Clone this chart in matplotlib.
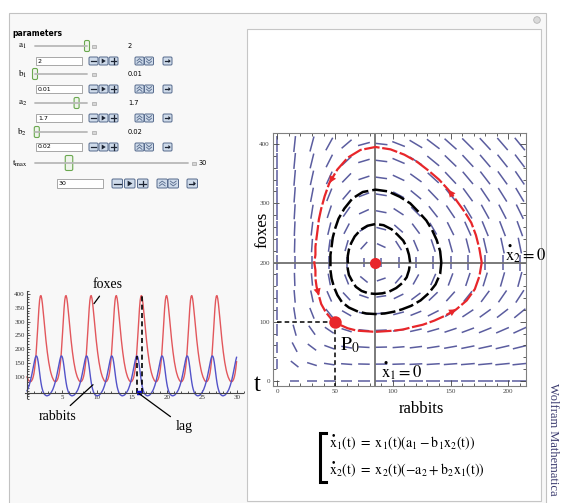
import numpy as np
import matplotlib
matplotlib.use('Agg')
import matplotlib.pyplot as plt
from matplotlib.patches import Rectangle, FancyBboxPatch, Polygon, Circle, FancyArrowPatch
from matplotlib.collections import LineCollection
from matplotlib.ticker import MultipleLocator

plt.rcParams['mathtext.fontset'] = 'stix'
plt.rcParams['font.family'] = ['Liberation Serif', 'DejaVu Serif']

# parameters shown in the controls
a1, b1, a2, b2 = 2, 0.01, 1.7, 0.02
t_max = 30
p0 = (50, 100)

# one period of the time series (samples every 0.1), period
period = 3.592
cycle_t = np.arange(0, 3.6, 0.1)
rabbits_cycle = [50, 55, 62, 69, 78, 87, 98, 110, 123, 136, 149, 161,
                 171, 176, 175, 168, 154, 136, 115, 96, 79, 65, 55, 47,
                 41, 37, 35, 33, 32, 32, 33, 34, 36, 39, 42, 46]
foxes_cycle = [100, 94, 89, 85, 84, 83, 84, 88, 93, 102, 114, 132,
               155, 185, 222, 264, 308, 347, 377, 392, 394, 384, 365, 340,
               314, 286, 260, 234, 211, 190, 171, 154, 140, 127, 116, 107]

# closed orbits in the phase plane
red_x = [177, 175, 172, 168, 162, 155, 148, 140, 131, 121, 110, 98,
         85, 72, 61, 52, 45, 41, 38, 36, 35, 34, 33, 33,
         32, 33, 33, 34, 36, 38, 42, 47, 54, 61, 69, 77,
         85, 93, 101, 109, 117, 126, 136, 145, 155, 164, 171, 175]
red_y = [200, 223, 246, 267, 286, 305, 323, 340, 355, 370, 382, 391,
         395, 390, 377, 357, 334, 312, 291, 273, 257, 242, 227, 213,
         200, 187, 173, 159, 144, 130, 116, 104, 95, 89, 85, 84,
         83, 84, 85, 87, 91, 95, 102, 110, 121, 136, 155, 177]
mid_x = [142, 141, 138, 134, 129, 122, 115, 106, 96, 85, 74, 65,
         58, 53, 50, 48, 47, 46, 46, 46, 47, 49, 52, 56,
         62, 70, 77, 85, 93, 101, 108, 116, 124, 131, 137, 141]
mid_y = [200, 219, 238, 255, 271, 286, 300, 311, 320, 323, 319, 308,
         291, 274, 257, 242, 227, 213, 200, 187, 173, 159, 145, 133,
         124, 117, 114, 113, 114, 117, 121, 127, 136, 148, 163, 181]
inner_x = [115, 114, 112, 109, 104, 99, 92, 85, 78, 72, 67, 64,
           62, 61, 61, 61, 62, 65, 68, 73, 79, 85, 91, 97,
           103, 108, 112, 114]
inner_y = [200, 213, 226, 237, 247, 256, 263, 265, 262, 255, 244, 233,
           222, 211, 200, 189, 179, 168, 159, 152, 148, 147, 148, 151,
           157, 165, 175, 187]
arrow_idx = [5, 15, 27, 43]

W, H = 563, 503
fig = plt.figure(figsize=(W/100, H/100), dpi=100)
fig.patch.set_facecolor('white')

def box(x0, y0, x1, y1):
    return [x0/W, 1-y1/H, (x1-x0)/W, (y1-y0)/H]

# ---- interface layer (pixel coords) ----
ui = fig.add_axes([0, 0, 1, 1], zorder=0)
ui.set_xlim(0, W); ui.set_ylim(H, 0); ui.axis('off')
ui.add_patch(Rectangle((8.5, 12.5), 537, 500, fc='#f8f8f8', ec='#c2c2c2', lw=0.8))
ui.add_patch(Rectangle((247, 28.5), 294, 472, fc='white', ec='#c6c6c6', lw=0.8))
ui.add_patch(Circle((537, 20), 3.3, fc='#dadada', ec='#b5b5b5', lw=0.6))
ui.text(12, 33, 'parameters', family='DejaVu Sans', weight='bold', fontsize=5.5, va='center')

ink = '#1c2433'
def button(x, y, w, h, kind):
    ui.add_patch(FancyBboxPatch((x, y), w, h, boxstyle='round,pad=0,rounding_size=1.2',
                                fc='#cfdbea', ec='#55698b', lw=0.7))
    cx, cy = x + w/2, y + h/2
    if kind in ('minus', 'plus'):
        ui.plot([cx-w*0.32, cx+w*0.32], [cy, cy], color=ink, lw=0.9)
        if kind == 'plus':
            ui.plot([cx, cx], [cy-h*0.32, cy+h*0.32], color=ink, lw=0.9)
    elif kind == 'play':
        ui.add_patch(Polygon([[cx-w*0.2, cy-h*0.32], [cx-w*0.2, cy+h*0.32], [cx+w*0.25, cy]],
                             closed=True, fc=ink, ec='none'))
    elif kind in ('up', 'down'):
        s = -1 if kind == 'up' else 1
        for dy in (-1.3, 1.3):
            ui.plot([cx-w*0.28, cx, cx+w*0.28], [cy+dy-s*1.1, cy+dy+s*1.1, cy+dy-s*1.1],
                    color='#55698b', lw=0.6)
    else:
        ui.plot([cx-w*0.3, cx+w*0.15], [cy, cy], color=ink, lw=0.9)
        ui.add_patch(Polygon([[cx+w*0.1, cy-h*0.25], [cx+w*0.1, cy+h*0.25], [cx+w*0.35, cy]],
                             closed=True, fc=ink, ec='none'))

def control_row(x_box, w_box, y, value, xs, w, h):
    ui.add_patch(Rectangle((x_box, y-h/2), w_box, h, fc='white', ec='#9a9a9a', lw=0.6))
    ui.text(x_box+2, y, value, family='DejaVu Sans', fontsize=4.5, va='center')
    for x, kind in zip(xs, ['minus', 'play', 'plus', 'up', 'down', 'arrow']):
        button(x, y-h/2, w, h, kind)

def slider(label, value, lo, hi, y, x0, x1, sq, xv, big=False):
    ui.text(x0-8, y, label, fontsize=6.5, ha='right', va='center')
    ui.plot([x0, x1], [y, y], color='#b8b8b8', lw=1.3, solid_capstyle='round')
    xt = x0 + (value-lo)/(hi-lo)*(x1-x0)
    tw, th = (7.5, 15) if big else (5, 11)
    ui.add_patch(FancyBboxPatch((xt-tw/2, y-th/2), tw, th, boxstyle='round,pad=0,rounding_size=1.5',
                                fc='#eef4ea', ec='#6aa84f', lw=0.8))
    ui.add_patch(Rectangle((sq, y-1.5), 4, 3, fc='#d6d6d6', ec='#a6a6a6', lw=0.5))
    ui.text(xv, y, '%g' % value, family='DejaVu Sans', fontsize=4.8, va='center')

rows = [(r'$\mathrm{a_1}$', a1, 0.5, 2, 46), (r'$\mathrm{b_1}$', b1, 0.01, 0.3, 74),
        (r'$\mathrm{a_2}$', a2, 0.5, 2, 103), (r'$\mathrm{b_2}$', b2, 0.01, 0.3, 132)]
for lab, val, lo, hi, y in rows:
    slider(lab, val, lo, hi, y, 35, 87, 92, 128)
    control_row(36, 46, y+15, '%g' % val, [89, 99, 109, 135, 144.5, 163], 9, 8)
slider(r'$\mathrm{t_{max}}$', t_max, 10, 100, 163, 35, 188, 192, 199, big=True)
control_row(57, 46, 183.5, '%g' % t_max, [112, 124.5, 137.5, 157, 168, 187], 10.5, 9)

# ---- time series ----
ts = fig.add_axes(box(23.5, 289.8, 244, 399.1), zorder=2)
ts.patch.set_alpha(0)
t_all = np.concatenate([k*period + cycle_t for k in range(9)])
rab_all = np.tile(rabbits_cycle, 9)
fox_all = np.tile(foxes_cycle, 9)
keep = t_all <= t_max
ts.plot(t_all[keep], fox_all[keep], color='#e2575c', lw=1.0)
ts.plot(t_all[keep], rab_all[keep], color='#5353c9', lw=1.0)
ts.set_xlim(-0.5, 31); ts.set_ylim(20, 415)
for s in ('top', 'right'):
    ts.spines[s].set_visible(False)
ts.spines['left'].set_position(('data', 0))
ts.spines['bottom'].set_position(('data', 42))
ts.spines['left'].set_bounds(24, 410)
ts.spines['bottom'].set_bounds(-0.3, 30.8)
for s in ('left', 'bottom'):
    ts.spines[s].set_color('#444444'); ts.spines[s].set_linewidth(0.8)
ts.set_xticks(range(5, 31, 5)); ts.xaxis.set_minor_locator(MultipleLocator(1))
ts.set_yticks(range(100, 401, 50)); ts.yaxis.set_minor_locator(MultipleLocator(10))
ts.tick_params(which='both', direction='in', width=0.6, labelsize=5, pad=1.5, colors='#333333')
ts.tick_params(which='major', length=2.5)
ts.tick_params(which='minor', length=1.3)
# lag between the peaks of the 5th cycle
k = 4
tr = k*period + cycle_t[int(np.argmax(rabbits_cycle))]
tf = k*period + cycle_t[int(np.argmax(foxes_cycle))]
ts.plot([tr, tr], [42, max(rabbits_cycle)], color='black', lw=1.2, ls=(0, (3, 2)))
ts.plot([tf, tf], [42, max(foxes_cycle)], color='black', lw=1.2, ls=(0, (3, 2)))
ts.plot([tr, tf], [42, 42], color='#1010cc', lw=3.2, solid_capstyle='butt')
line = dict(arrowstyle='-', color='black', lw=0.9, shrinkA=2, shrinkB=0)
ts.annotate('foxes', xy=(2*period + 2.39, 365), xytext=(14, 19), textcoords='offset pixels',
            fontsize=10, ha='center', va='center', arrowprops=line)
ts.annotate('rabbits', xy=(2*period + 2.25, 72), xytext=(-35, -32), textcoords='offset pixels',
            fontsize=10, ha='center', va='center', arrowprops=line)
ts.annotate('lag', xy=(16.0, 40), xytext=(45, -33), textcoords='offset pixels',
            fontsize=10, ha='center', va='center', arrowprops=line)

# ---- phase plane ----
x0l, x1l, y0l, y1l = -4.0, 214.9, -8.4, 418.6
L, T, R, B = 272.7, 133, 525.5, 386
ax = fig.add_axes(box(L, T, R, B), zorder=2)
ax.patch.set_alpha(0)
ax.set_xlim(x0l, x1l); ax.set_ylim(y0l, y1l)
sx = (R-L)/(x1l-x0l); sy = (B-T)/(y1l-y0l)

segs = []
for gx in np.linspace(0, 210, 15):
    for gy in np.linspace(0, 400, 15):
        u = gx*(a1 - b1*gy); v = gy*(-a2 + b2*gx)
        mag = np.hypot(u, v)
        if mag == 0:
            continue
        pu, pv = u*sx, v*sy
        mp = np.hypot(pu, pv)
        seg = 7 + 9*np.sqrt(min(mag/500, 1))
        dx = pu/mp*seg/2/sx; dy = pv/mp*seg/2/sy
        segs.append([(gx-dx, gy-dy), (gx+dx, gy+dy)])
ax.add_collection(LineCollection(segs, colors='#5b5d9f', linewidths=1.1, zorder=1))

ax.axvline(a2/b2, color='#707070', lw=1.3, zorder=2)
ax.axhline(a1/b1, color='#707070', lw=1.3, zorder=2)
ax.plot(inner_x + inner_x[:1], inner_y + inner_y[:1], color='black', lw=1.8, ls=(0, (6, 1.6)), zorder=3)
ax.plot(mid_x + mid_x[:1], mid_y + mid_y[:1], color='black', lw=1.8, ls=(0, (6, 1.6)), zorder=3)
ax.plot(red_x + red_x[:1], red_y + red_y[:1], color='#e8262a', lw=1.6, ls=(0, (7, 1.2)), zorder=4)
for i in arrow_idx:
    ax.add_patch(FancyArrowPatch((red_x[i], red_y[i]), (red_x[i+1], red_y[i+1]),
                                 arrowstyle='-|>', mutation_scale=13, color='#e8262a',
                                 lw=0, shrinkA=0, shrinkB=0, zorder=5))
ax.plot([0, p0[0]], [p0[1], p0[1]], color='black', lw=1.1, ls=(0, (3, 2)), zorder=3)
ax.plot([p0[0], p0[0]], [p0[1], y0l], color='black', lw=1.1, ls=(0, (3, 2)), zorder=3)
ax.plot([a2/b2], [a1/b1], 'o', color='#e8262a', ms=8, mec='none', zorder=6)
ax.plot([p0[0]], [p0[1]], 'o', color='#e8262a', ms=9, mec='none', zorder=6)
ax.text(54, 52, r'$\mathrm{P_0}$', fontsize=14, va='baseline')
ax.text(89.5, 6, r'$\overset{\bullet}{\mathrm{x}}_1\mathrm{=0}$', fontsize=12, va='baseline', zorder=6)
ax.text(197.5, 204, r'$\overset{\bullet}{\mathrm{x}}_2\mathrm{=0}$', fontsize=12, va='baseline', zorder=6)

ax.set_xticks(range(0, 201, 50)); ax.xaxis.set_minor_locator(MultipleLocator(10))
ax.set_yticks(range(0, 401, 100)); ax.yaxis.set_minor_locator(MultipleLocator(20))
ax.tick_params(which='both', direction='in', top=True, right=True, width=0.6,
               labelsize=5, pad=2, colors='#444444')
ax.tick_params(which='major', length=4)
ax.tick_params(which='minor', length=2)
for s in ax.spines.values():
    s.set_color('#808080'); s.set_linewidth(0.8)

ui.text(262, 230, 'foxes', rotation=90, ha='center', va='center', fontsize=12)
ui.text(421, 409, 'rabbits', ha='center', va='center', fontsize=12)
ui.text(257, 385, 't', ha='center', va='center', fontsize=18)

# equations
ui.plot([326, 319.5, 319.5, 326], [433, 433, 482, 482], color='black', lw=2.2,
        solid_joinstyle='miter')
ui.text(329, 448, r'$\overset{\bullet}{\mathrm{x}}_1\mathrm{(t)\ =\ x_1(t)(a_1-b_1x_2(t))}$',
        fontsize=10, va='baseline')
ui.text(329, 475, r'$\overset{\bullet}{\mathrm{x}}_2\mathrm{(t)\ =\ x_2(t)(-a_2+b_2x_1(t))}$',
        fontsize=10, va='baseline')

ui.text(553, 383, 'Wolfram Mathematica', rotation=-90, ha='center', va='top',
        fontsize=9, color='#3a3a6e')

fig.savefig('out.png', dpi=100)
